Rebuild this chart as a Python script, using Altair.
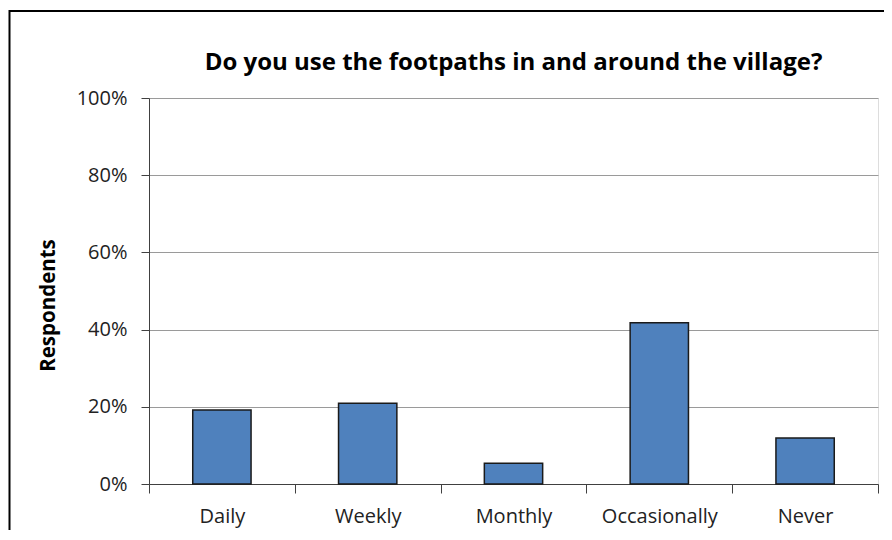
import altair as alt
import pandas as pd

categories = ["Daily", "Weekly", "Monthly", "Occasionally", "Never"]
values = [0.192, 0.209, 0.054, 0.418, 0.119]
title_text = "Do you use the footpaths in and around the village?"

df = pd.DataFrame({"cat": categories, "val": values})

FONT = "Open Sans"
W, H = 729, 386
PL, PT = 141, 90

bars = alt.Chart(df).mark_bar(
    width=alt.RelativeBandSize(0.4),
    color="#4F81BD",
    stroke="#1a1a1a",
    strokeWidth=1.5,
).encode(
    x=alt.X(
        "cat:N",
        sort=categories,
        scale=alt.Scale(paddingInner=0, paddingOuter=0),
        axis=alt.Axis(
            title=None,
            labelAngle=0,
            tickBand="extent",
            tickSize=9,
            tickColor="#404040",
            domainColor="#404040",
            labelFont=FONT,
            labelFontSize=20,
            labelColor="#222222",
            labelPadding=13,
            grid=False,
        ),
    ),
    y=alt.Y(
        "val:Q",
        scale=alt.Scale(domain=[0, 1]),
        axis=alt.Axis(
            title="Respondents",
            format=".0%",
            values=[0, 0.2, 0.4, 0.6, 0.8, 1.0],
            tickSize=8,
            tickColor="#404040",
            domainColor="#404040",
            gridColor="#9a9a9a",
            labelFont=FONT,
            labelFontSize=20,
            labelColor="#222222",
            labelPadding=14,
            titleFont=FONT,
            titleFontSize=20.5,
            titleFontWeight="bold",
            titleColor="#000000",
            titlePadding=18,
            titleY=207,
        ),
    ),
)

one = pd.DataFrame({"t": [title_text]})

title = alt.Chart(one).mark_text(
    font=FONT, fontSize=24, fontWeight="bold", color="#000000",
    align="center", baseline="middle", clip=False,
).encode(
    text="t:N",
    x=alt.value(W / 2),
    y=alt.value(-35),
)

frame = alt.Chart(one).mark_rect(
    fill=None, stroke="#000000", strokeWidth=2, clip=False
).encode(
    x=alt.value(-PL + 1.5),
    x2=alt.value(W + 60),
    y=alt.value(11 - 8 - PT),
    y2=alt.value(H + 80),
)

chart = alt.layer(frame, bars, title).properties(
    width=W,
    height=H,
    autosize=alt.AutoSizeParams(type="none"),
    padding={"left": PL, "top": PT, "right": 6, "bottom": 46},
).configure_view(
    stroke="#404040", strokeWidth=1
).configure(background="white")

chart.save("out.html", embed_options={"renderer": "svg", "actions": False})
